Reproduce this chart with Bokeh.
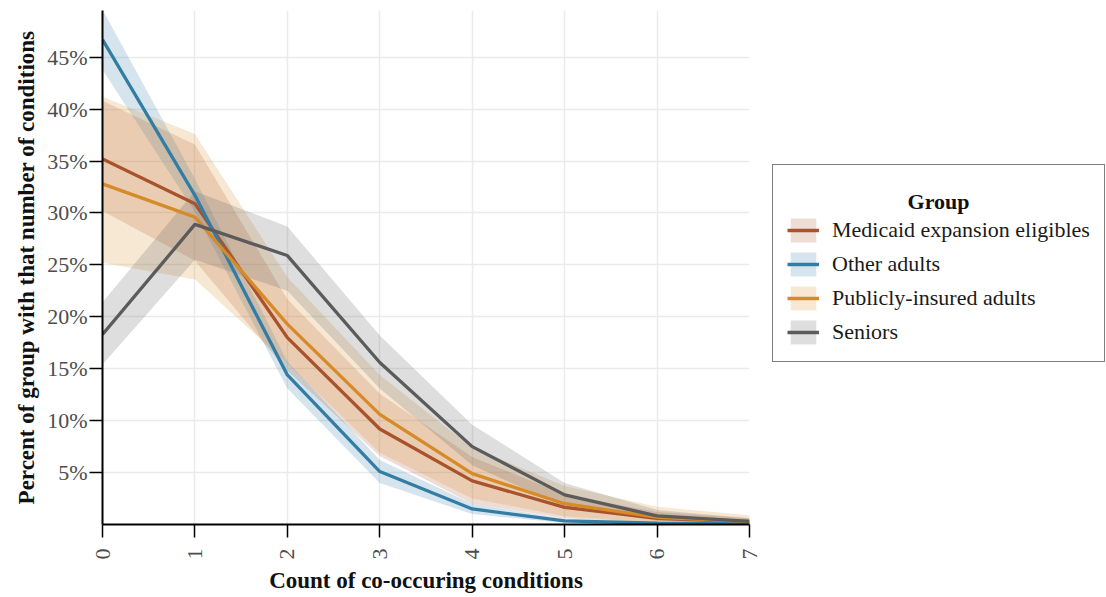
import math
from bokeh.plotting import figure
from bokeh.layouts import row
from bokeh.models import (Range1d, FixedTicker, PrintfTickFormatter, Legend,
                          LegendItem, ColumnDataSource, Label)
from bokeh.embed import file_html
from bokeh.resources import INLINE

# ---- data (percent of group) ----
counts = [0, 1, 2, 3, 4, 5, 6, 7]
x_tick_labels = ["0", "1", "2", "3", "4", "5", "6", "7"]
y_ticks = [5, 10, 15, 20, 25, 30, 35, 40, 45]

legend_title = "Group"
groups = ["Medicaid expansion eligibles", "Other adults",
          "Publicly-insured adults", "Seniors"]

medicaid_mid = [35.2, 30.9, 18.0, 9.2, 4.2, 1.65, 0.6, 0.25]
medicaid_lo = [30.2, 25.4, 14.8, 6.6, 2.0, 0.6, 0.15, 0.05]
medicaid_hi = [40.8, 36.6, 21.7, 12.6, 6.5, 2.9, 1.2, 0.6]

other_mid = [46.7, 31.7, 14.4, 5.1, 1.5, 0.35, 0.12, 0.06]
other_lo = [43.8, 30.1, 13.1, 4.0, 1.0, 0.15, 0.03, 0.01]
other_hi = [49.6, 33.3, 15.7, 6.2, 2.0, 0.55, 0.25, 0.12]

public_mid = [32.8, 29.6, 19.3, 10.6, 4.9, 2.0, 0.7, 0.3]
public_lo = [25.2, 23.6, 15.5, 6.9, 2.5, 0.8, 0.15, 0.05]
public_hi = [41.2, 37.6, 23.8, 14.4, 7.4, 3.7, 1.7, 0.9]

seniors_mid = [18.3, 28.9, 25.9, 15.6, 7.5, 2.85, 0.83, 0.3]
seniors_lo = [15.4, 25.5, 22.5, 13.1, 5.7, 1.7, 0.35, 0.08]
seniors_hi = [21.4, 32.1, 28.7, 18.2, 9.6, 4.0, 1.4, 0.6]

colors = ["#A8532B", "#337DA5", "#D68A28", "#5B5B5B"]

series = [
    (medicaid_mid, medicaid_lo, medicaid_hi),
    (other_mid, other_lo, other_hi),
    (public_mid, public_lo, public_hi),
    (seniors_mid, seniors_lo, seniors_hi),
]

FONT = "Liberation Serif"
BAND_ALPHA = 0.2
LINE_W = 3.3

sources = [ColumnDataSource(dict(x=counts, y=mid, lo=lo, hi=hi))
           for (mid, lo, hi) in series]

# ---------------- main plot ----------------
p = figure(width=761, height=597,
           x_range=Range1d(0, 7), y_range=Range1d(0, 49.5),
           output_backend="svg", toolbar_location=None,
           min_border_left=102, min_border_right=12,
           min_border_top=10, min_border_bottom=73)
p.outline_line_color = None
p.background_fill_color = "white"
p.border_fill_color = "white"

for src, c in zip(sources, colors):
    p.varea(x="x", y1="lo", y2="hi", source=src,
            fill_color=c, fill_alpha=BAND_ALPHA)
for src, c in zip(sources, colors):
    p.line(x="x", y="y", source=src, line_color=c, line_width=LINE_W)

p.xaxis.ticker = FixedTicker(ticks=counts)
p.xaxis.major_label_overrides = {c: l for c, l in zip(counts, x_tick_labels)}
p.xaxis.major_label_orientation = math.pi / 2
p.yaxis.ticker = FixedTicker(ticks=y_ticks)
p.yaxis.formatter = PrintfTickFormatter(format="%d%%")

for ax in (p.xaxis[0], p.yaxis[0]):
    ax.axis_line_color = "black"
    ax.axis_line_width = 2
    ax.major_tick_line_color = "black"
    ax.major_tick_line_width = 1.5
    ax.major_tick_out = 13
    ax.major_tick_in = 0
    ax.minor_tick_line_color = None
    ax.major_label_text_font = FONT
    ax.major_label_text_font_size = "22px"
    ax.major_label_text_color = "#4D4D4D"
    ax.axis_label_text_font = FONT
    ax.axis_label_text_font_size = "23px"
    ax.axis_label_text_font_style = "bold"
    ax.axis_label_text_color = "#111111"

p.xaxis.axis_label = "Count of co-occuring conditions"
p.yaxis.axis_label = "Percent of group with that number of conditions"
p.xaxis.major_label_standoff = 11
p.xaxis.axis_label_standoff = 5
p.yaxis.major_label_standoff = 2
p.yaxis.axis_label_standoff = 5

p.xgrid.grid_line_color = "#EBEBEB"
p.ygrid.grid_line_color = "#EBEBEB"
p.xgrid.grid_line_width = 1.5
p.ygrid.grid_line_width = 1.5

# ---------------- legend panel (ranges in pixels, data lies off-view) ----
q = figure(width=345, height=597,
           x_range=Range1d(1000, 1345), y_range=Range1d(0, 514),
           x_axis_location=None, y_axis_location=None,
           output_backend="svg", toolbar_location=None,
           min_border_left=0, min_border_right=0,
           min_border_top=10, min_border_bottom=73)
q.grid.visible = False
q.outline_line_color = None
q.background_fill_color = "white"
q.border_fill_color = "white"

items = []
for g, src, c in zip(groups, sources, colors):
    a = q.varea(x="x", y1="lo", y2="hi", source=src,
                fill_color=c, fill_alpha=BAND_ALPHA)
    l = q.line(x="x", y="y", source=src, line_color=c, line_width=LINE_W)
    items.append(LegendItem(label=g, renderers=[a, l]))

title_label = Label(x=1177, y=323,
                    text=legend_title, text_font=FONT, text_font_size="22px",
                    text_font_style="bold", text_color="#111111",
                    text_align="center", text_baseline="alphabetic")
q.add_layout(title_label)

legend = Legend(items=items, location=(11, 162))
legend.title = "\u00a0"
legend.title_text_font = FONT
legend.title_text_font_size = "22px"
legend.title_text_font_style = "bold"
legend.title_standoff = 10
legend.label_text_font = FONT
legend.label_text_font_size = "22px"
legend.label_text_color = "#1A1A1A"
legend.glyph_width = 32
legend.glyph_height = 30
legend.label_standoff = 13
legend.spacing = 4
legend.padding = 14
legend.margin = 0
legend.border_line_color = "black"
legend.border_line_width = 1.5
legend.background_fill_alpha = 0.0
q.add_layout(legend, "center")

layout = row(p, q, spacing=0)
open("out.html", "w").write(file_html(layout, INLINE))
